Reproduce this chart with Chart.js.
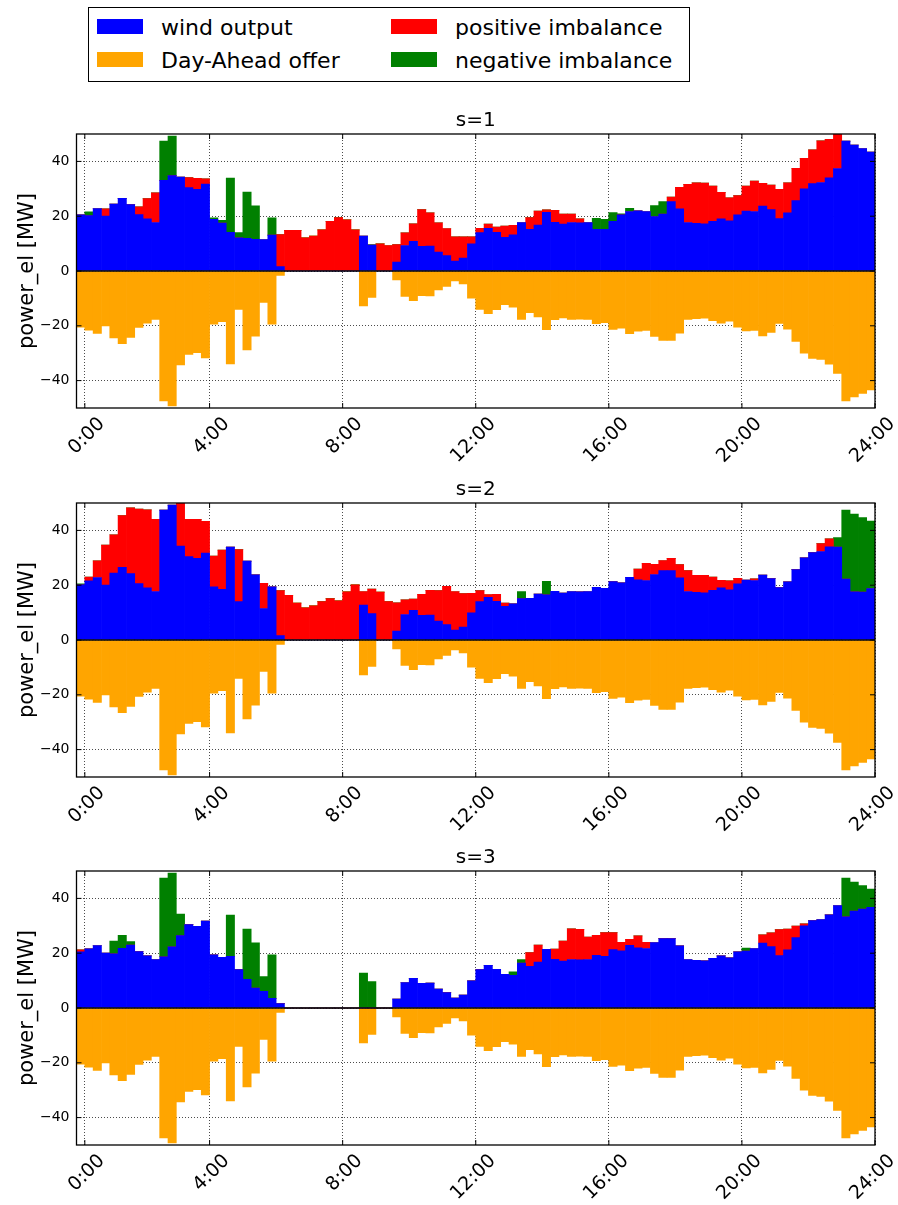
<!DOCTYPE html>
<html>
<head>
<meta charset="utf-8">
<title>power_el per scenario</title>
<script src="https://cdn.jsdelivr.net/npm/chart.js@4.4.1/dist/chart.umd.min.js"></script>
<style>
  body { margin: 0; background: #fff; font-family: 'DejaVu Sans', sans-serif; }
  #page { position: relative; width: 898px; height: 1205px; overflow: hidden; }
  canvas { position: absolute; left: 0; }
  .legend-box { position: absolute; left: 88px; top: 7px; width: 600px; height: 73px; border: 1px solid #000; }
  .patch { position: absolute; width: 46px; height: 15px; }
  .label { position: absolute; font-size: 22px; line-height: 26px; white-space: nowrap; color: #000; }
</style>
</head>
<body>
<div id="page">
  <div class="legend-box"></div>
  <div class="patch" style="left:97px;top:19px;background:#0000ff"></div>
  <div class="label" style="left:161px;top:15px">wind output</div>
  <div class="patch" style="left:97px;top:52px;background:#ffa500"></div>
  <div class="label" style="left:161px;top:48px">Day-Ahead offer</div>
  <div class="patch" style="left:391px;top:19px;background:#ff0000"></div>
  <div class="label" style="left:455px;top:15px">positive imbalance</div>
  <div class="patch" style="left:391px;top:52px;background:#008000"></div>
  <div class="label" style="left:455px;top:48px">negative imbalance</div>

  <canvas id="chart1" width="898" height="380" style="top:94px"></canvas>
  <canvas id="chart2" width="898" height="380" style="top:463px"></canvas>
  <canvas id="chart3" width="898" height="380" style="top:831px"></canvas>
</div>
<script>
// quarter-hour values, MW
const daOffer = [
  20.5, 21.6, 22.8, 20.0, 24.4, 26.5, 24.2, 20.6, 19.0, 17.7,
  47.4, 49.2, 34.3, 30.4, 29.8, 31.7, 19.4, 18.5, 33.9, 14.0,
  28.8, 23.8, 11.5, 19.4, 1.6, 0, 0, 0, 0, 0,
  0, 0, 0, 0, 12.7, 9.6, 0, 0, 3.3, 9.3,
  10.8, 9.0, 9.1, 6.9, 5.6, 3.6, 4.7, 9.9, 14.0, 15.6,
  14.1, 12.3, 13.2, 17.7, 15.2, 16.8, 21.4, 17.8, 17.1, 17.7,
  17.6, 17.7, 19.2, 18.9, 21.3, 20.9, 22.9, 22.0, 21.7, 23.9,
  25.3, 25.3, 22.7, 17.7, 17.4, 17.2, 18.1, 19.0, 18.3, 20.5,
  21.9, 21.7, 23.7, 22.4, 19.1, 21.2, 25.7, 30.0, 31.9, 32.3,
  34.0, 37.4, 47.4, 46.0, 44.7, 43.4
];

const windS1 = [
  20.5, 20.2, 22.8, 22.7, 24.4, 26.5, 24.2, 23.4, 26.4, 28.5,
  33.1, 34.8, 34.3, 34.1, 33.8, 33.6, 18.9, 17.5, 14.1, 12.1,
  11.9, 11.6, 11.5, 13.1, 13.3, 14.8, 14.8, 12.1, 12.7, 15.0,
  18.1, 19.5, 18.7, 15.0, 12.7, 9.5, 9.9, 9.3, 9.6, 13.9,
  17.2, 22.4, 21.2, 17.6, 15.5, 12.5, 12.5, 12.5, 15.6, 17.1,
  16.0, 16.4, 16.7, 17.7, 19.5, 21.9, 22.3, 22.1, 20.8, 20.8,
  19.0, 17.7, 15.2, 15.2, 18.1, 20.5, 21.7, 22.0, 21.7, 19.9,
  20.8, 27.0, 30.5, 31.6, 32.2, 32.1, 31.0, 28.7, 26.7, 27.5,
  31.0, 32.8, 32.0, 31.4, 29.8, 32.2, 37.5, 41.1, 44.2, 47.5,
  48.1, 50.5, 47.4, 46.0, 44.7, 43.4
];

const windS2 = [
  20.1, 23.0, 28.9, 34.6, 38.4, 45.4, 48.2, 47.8, 47.5, 44.0,
  47.4, 49.2, 50.5, 44.0, 44.0, 43.3, 30.6, 32.8, 33.9, 33.0,
  28.8, 23.8, 20.7, 19.4, 18.0, 16.3, 13.5, 11.7, 12.5, 14.0,
  15.1, 14.3, 17.6, 20.1, 17.7, 18.6, 17.5, 14.0, 13.6, 14.7,
  14.9, 16.7, 18.1, 18.0, 19.6, 17.7, 16.9, 17.0, 18.0, 16.6,
  16.7, 13.5, 13.2, 15.1, 15.2, 16.8, 16.5, 17.8, 17.1, 17.7,
  17.6, 17.7, 19.2, 18.9, 21.3, 20.9, 22.9, 25.9, 28.0, 27.6,
  29.0, 29.8, 27.5, 25.3, 23.6, 23.6, 23.0, 21.8, 21.6, 22.5,
  21.9, 22.3, 23.7, 22.4, 19.1, 21.2, 25.7, 30.0, 31.9, 35.2,
  36.9, 33.9, 22.2, 17.6, 17.5, 18.8
];

const windS3 = [
  21.2, 21.6, 22.8, 20.0, 19.8, 21.8, 23.0, 20.6, 19.0, 17.7,
  18.7, 22.3, 26.4, 30.4, 29.8, 31.7, 19.4, 18.5, 18.9, 14.0,
  10.5, 7.3, 6.1, 3.5, 1.6, 0, 0, 0, 0, 0,
  0, 0, 0, 0, 0, 0, 0, 0, 3.3, 9.3,
  10.8, 9.0, 9.1, 6.9, 5.6, 3.6, 4.7, 9.9, 14.0, 15.6,
  14.1, 12.3, 11.9, 16.4, 20.2, 23.0, 21.4, 21.5, 24.4, 28.9,
  28.7, 25.9, 26.5, 27.5, 27.5, 24.0, 25.1, 26.3, 24.0, 23.9,
  25.3, 25.3, 22.7, 17.7, 17.4, 17.2, 18.1, 19.0, 18.3, 20.5,
  20.8, 21.7, 26.7, 27.4, 28.6, 28.8, 29.9, 30.7, 31.9, 32.3,
  34.0, 37.4, 33.3, 35.4, 36.1, 36.7
];

const tickPositions = [1, 16, 32, 48, 64, 80, 96];
const tickLabels = ['0:00', '4:00', '8:00', '12:00', '16:00', '20:00', '24:00'];
const yTicks = [-40, -20, 0, 20, 40];

const scenarios = [
  { canvas: 'chart1', title: 's=1', wind: windS1 },
  { canvas: 'chart2', title: 's=2', wind: windS2 },
  { canvas: 'chart3', title: 's=3', wind: windS3 }
];

Chart.defaults.font.family = "'DejaVu Sans', sans-serif";
Chart.defaults.color = '#000';

// subplot title above the plot area
const panelTitle = {
  id: 'panelTitle',
  afterDraw(chart, args, opts) {
    const { ctx, chartArea } = chart;
    ctx.save();
    ctx.font = '20px "DejaVu Sans"';
    ctx.fillStyle = '#000';
    ctx.textAlign = 'center';
    ctx.textBaseline = 'middle';
    ctx.fillText(opts.text, (chartArea.left + chartArea.right) / 2, chartArea.top - 13);
    ctx.restore();
  }
};

// box around the axes with inward tick marks on all sides
const axesFrame = {
  id: 'axesFrame',
  afterDraw(chart) {
    const { ctx, chartArea: a, scales } = chart;
    ctx.save();
    ctx.strokeStyle = '#000';
    ctx.lineWidth = 1;
    ctx.beginPath();
    scales.x.ticks.forEach(t => {
      const px = scales.x.getPixelForValue(t.value);
      ctx.moveTo(px, a.bottom); ctx.lineTo(px, a.bottom - 5);
      ctx.moveTo(px, a.top); ctx.lineTo(px, a.top + 5);
    });
    scales.y.ticks.forEach(t => {
      const py = scales.y.getPixelForValue(t.value);
      ctx.moveTo(a.left, py); ctx.lineTo(a.left + 5, py);
      ctx.moveTo(a.right, py); ctx.lineTo(a.right - 5, py);
    });
    ctx.stroke();
    ctx.lineWidth = 1.3;
    ctx.strokeRect(a.left, a.top, a.right - a.left, a.bottom - a.top);
    ctx.restore();
  }
};

function makeChart(sc) {
  const pts = arr => arr.map((v, i) => ({ x: i + 0.5, y: v }));
  const blue = sc.wind.map((w, i) => Math.min(w, daOffer[i]));
  const red = sc.wind.map((w, i) => Math.max(w - daOffer[i], 0));
  const green = sc.wind.map((w, i) => Math.max(daOffer[i] - w, 0));
  const orange = daOffer.map(v => -v);

  const barOpts = { borderWidth: 0, barPercentage: 1, categoryPercentage: 1 };

  return new Chart(document.getElementById(sc.canvas), {
    type: 'bar',
    data: {
      datasets: [
        {
          type: 'line',
          label: 'zero',
          data: [{ x: 0, y: 0 }, { x: 96, y: 0 }],
          borderColor: '#000',
          borderWidth: 1.3,
          pointRadius: 0
        },
        { label: 'wind output', data: pts(blue), backgroundColor: '#0000ff', ...barOpts },
        { label: 'positive imbalance', data: pts(red), backgroundColor: '#ff0000', ...barOpts },
        { label: 'negative imbalance', data: pts(green), backgroundColor: '#008000', ...barOpts },
        { label: 'Day-Ahead offer', data: pts(orange), backgroundColor: '#ffa500', ...barOpts }
      ]
    },
    options: {
      responsive: false,
      animation: false,
      layout: { padding: { top: 40, right: 23, left: 0, bottom: 0 } },
      scales: {
        x: {
          type: 'linear',
          min: 0,
          max: 96,
          offset: false,
          stacked: true,
          z: 1,
          afterBuildTicks: s => { s.ticks = tickPositions.map(v => ({ value: v })); },
          afterFit: s => { s.height = 66; },
          grid: { offset: false, drawTicks: false, color: 'rgba(0,0,0,0.7)', lineWidth: 1 },
          border: { display: false, dash: [1, 2] },
          ticks: {
            autoSkip: false,
            minRotation: 45,
            maxRotation: 45,
            padding: 5,
            labelOffset: 17,
            font: { size: 19 },
            callback: (v, i) => tickLabels[i]
          }
        },
        y: {
          min: -50,
          max: 50,
          stacked: true,
          z: 1,
          afterBuildTicks: s => { s.ticks = yTicks.map(v => ({ value: v })); },
          afterFit: s => { s.width = 76.5; },
          grid: { drawTicks: false, color: 'rgba(0,0,0,0.7)', lineWidth: 1 },
          border: { display: false, dash: [1, 2] },
          ticks: {
            padding: 7,
            font: { size: 14 },
            callback: v => (v < 0 ? '\u2212' + Math.abs(v) : String(v))
          },
          title: {
            display: true,
            text: 'power_el [MW]',
            font: { size: 21 },
            padding: { top: 15, bottom: 0 }
          }
        }
      },
      plugins: {
        legend: { display: false },
        tooltip: { enabled: false },
        panelTitle: { text: sc.title }
      }
    },
    plugins: [panelTitle, axesFrame]
  });
}

scenarios.forEach(makeChart);
</script>
</body>
</html>
